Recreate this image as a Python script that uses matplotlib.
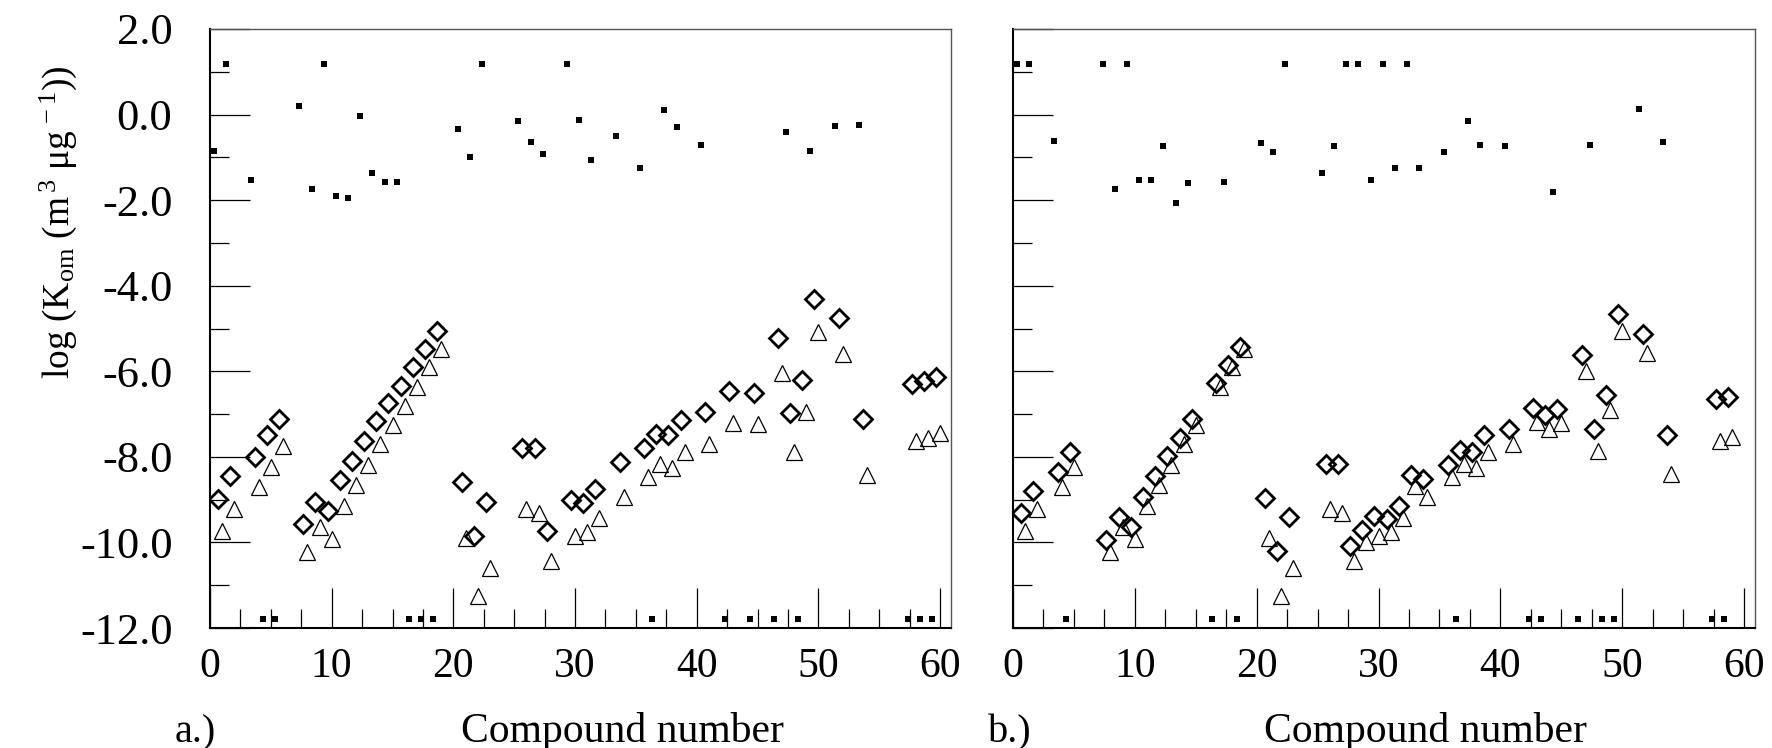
import numpy as np
import matplotlib
matplotlib.use("Agg")
import matplotlib.pyplot as plt
from matplotlib.ticker import MultipleLocator

plt.rcParams['font.family'] = ['Liberation Serif', 'DejaVu Serif']
plt.rcParams['mathtext.fontset'] = 'custom'
plt.rcParams['mathtext.rm'] = 'Liberation Serif'
plt.rcParams['mathtext.it'] = 'Liberation Serif:italic'

# compound numbers and log Kom values, panel a
comp_a = [1, 2, 4, 5, 6, 8, 9, 10, 11, 12, 13, 14, 15, 16, 17, 18, 19,
          21, 22, 23, 26, 27, 28, 30, 31, 32, 34, 36, 37, 38, 39, 41,
          43, 45, 47, 48, 49, 50, 52, 54, 58, 59, 60]
sq_a = [-0.84, 1.18, -1.52, -11.8, -11.8, 0.21, -1.74, 1.18, -1.90, -1.95, -0.04, -1.36, -1.57, -1.57, -11.8, -11.8, -11.8,
        -0.34, -0.98, 1.18, -0.14, -0.65, -0.93, 1.18, -0.12, -1.06, -0.50, -1.25, -11.8, 0.11, -0.30, -0.71,
        -11.8, -11.8, -11.8, -0.41, -11.8, -0.86, -0.27, -0.25, -11.8, -11.8, -11.8]
dia_a = [-8.98, -8.45, -8.00, -7.50, -7.11, -9.56, -9.05, -9.27, -8.55, -8.09, -7.62, -7.16, -6.73, -6.35, -5.89, -5.47, -5.06,
         -8.59, -9.84, -9.06, -7.79, -7.79, -9.73, -9.00, -9.09, -8.75, -8.12, -7.80, -7.47, -7.50, -7.14, -6.95,
         -6.47, -6.50, -5.23, -6.97, -6.20, -4.30, -4.75, -7.12, -6.29, -6.23, -6.14]
tri_a = [-9.73, -9.23, -8.70, -8.23, -7.75, -10.23, -9.65, -9.91, -9.15, -8.65, -8.18, -7.70, -7.25, -6.82, -6.36, -5.91, -5.48,
         -9.89, -11.25, -10.59, -9.21, -9.32, -10.43, -9.86, -9.75, -9.43, -8.93, -8.47, -8.16, -8.25, -7.88, -7.71,
         -7.20, -7.23, -6.05, -7.88, -6.94, -5.09, -5.59, -8.43, -7.64, -7.55, -7.44]

# panel b
comp_b = [1, 2, 4, 5, 8, 9, 10, 11, 12, 13, 14, 15, 17, 18, 19,
          21, 22, 23, 26, 27, 28, 29, 30, 31, 32, 33, 34, 36, 37, 38, 39, 41,
          43, 44, 45, 47, 48, 49, 50, 52, 54, 58, 59]
sq_b = [1.18, 1.18, -0.62, -11.8, 1.18, -1.74, 1.18, -1.52, -1.52, -0.74, -2.06, -1.60, -11.8, -1.57, -11.8,
        -0.66, -0.87, 1.18, -1.36, -0.74, 1.18, 1.18, -1.52, 1.18, -1.25, 1.18, -1.25, -0.87, -11.8, -0.14, -0.71, -0.74,
        -11.8, -11.8, -1.82, -11.8, -0.71, -11.8, -11.8, 0.13, -0.65, -11.8, -11.8]
dia_b = [-9.32, -8.80, -8.36, -7.89, -9.95, -9.41, -9.64, -8.93, -8.45, -7.98, -7.55, -7.12, -6.27, -5.85, -5.43,
         -8.95, -10.20, -9.41, -8.16, -8.16, -10.09, -9.70, -9.39, -9.45, -9.15, -8.43, -8.52, -8.20, -7.84, -7.88, -7.50, -7.34,
         -6.86, -7.03, -6.88, -5.61, -7.36, -6.55, -4.66, -5.14, -7.48, -6.65, -6.59]
tri_b = [-9.73, -9.23, -8.70, -8.23, -10.23, -9.65, -9.91, -9.15, -8.65, -8.18, -7.71, -7.25, -6.36, -5.91, -5.48,
         -9.89, -11.25, -10.59, -9.21, -9.32, -10.43, -10.00, -9.86, -9.75, -9.43, -8.68, -8.93, -8.47, -8.16, -8.25, -7.88, -7.71,
         -7.18, -7.36, -7.21, -6.00, -7.86, -6.91, -5.07, -5.57, -8.41, -7.62, -7.53]


def draw_panel(ax, comp, sq, dia, tri, show_labels):
    n = np.array(comp, dtype=float)
    ax.plot(n - 0.65, sq, 's', ms=5, color='black', mec='black', mew=0)
    ax.plot(n - 0.33, dia, 'D', ms=9, mfc='none', mec='black', mew=2.0)
    ax.plot(n, tri, '^', ms=11, mfc='none', mec='black', mew=0.9)

    ax.set_xlim(0, 60.9)
    ax.set_ylim(-12, 2)
    ax.xaxis.set_major_locator(MultipleLocator(10))
    ax.xaxis.set_minor_locator(MultipleLocator(2.5))
    ax.yaxis.set_major_locator(MultipleLocator(2))
    ax.yaxis.set_minor_locator(MultipleLocator(1))
    ax.tick_params(which='both', direction='in', top=False, right=False, width=0.9)
    ax.tick_params(which='major', length=29)
    ax.tick_params(which='minor', length=14)
    ax.tick_params(axis='x', which='major', labelsize=30, pad=14)
    ax.tick_params(axis='y', which='major', labelsize=32, pad=27)
    ax.set_xticks([0, 10, 20, 30, 40, 50, 60])
    if show_labels:
        ax.set_yticks(np.arange(-12, 2.1, 2))
        ax.set_yticklabels(['%.1f' % v for v in np.arange(-12, 2.1, 2)])
    else:
        ax.set_yticklabels([])
    for side in ['top', 'right']:
        ax.spines[side].set_linewidth(1.0)
        ax.spines[side].set_color('#555555')
    for side in ['left', 'bottom']:
        ax.spines[side].set_linewidth(1.5)


fig = plt.figure(figsize=(17.72, 7.48), dpi=100)
ax1 = fig.add_axes([210 / 1772, 1 - 628 / 748, 741 / 1772, 599 / 748])
ax2 = fig.add_axes([1013 / 1772, 1 - 628 / 748, 742 / 1772, 599 / 748])

draw_panel(ax1, comp_a, sq_a, dia_a, tri_a, True)
draw_panel(ax2, comp_b, sq_b, dia_b, tri_b, False)

fig.text(58 / 1772, 1 - 222 / 748, r'log (K$_{\mathrm{om}}$ (m$^{\,3}$ $\mathrm{\mu}$g$^{\,-1}$))',
         rotation=90, ha='center', va='center', fontsize=27)

fig.text(195 / 1772, 1 - 742 / 748, 'a.)', ha='center', va='baseline', fontsize=29)
fig.text(622 / 1772, 1 - 742 / 748, 'Compound number', ha='center', va='baseline', fontsize=30)
fig.text(1010 / 1772, 1 - 742 / 748, 'b.)', ha='center', va='baseline', fontsize=29)
fig.text(1425 / 1772, 1 - 742 / 748, 'Compound number', ha='center', va='baseline', fontsize=30)

fig.savefig('out.png', dpi=100)
